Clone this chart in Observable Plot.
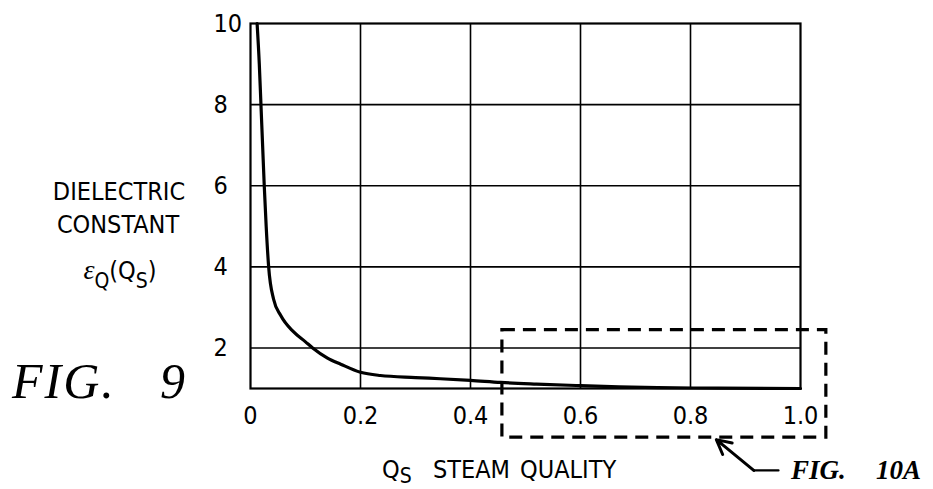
<!DOCTYPE html>
<html>
<head>
<meta charset="utf-8">
<script src="https://cdn.jsdelivr.net/npm/d3@7"></script>
<script src="https://cdn.jsdelivr.net/npm/@observablehq/plot@0.6"></script>
<style>
  html, body { margin: 0; padding: 0; background: #fff; }
  #chart svg { display: block; }
</style>
</head>
<body>
<div id="chart"></div>
<script>
// Steam quality Qs (x) and dielectric constant eps_Q(Qs) (y)
const steamQuality = [0.012, 0.016, 0.019, 0.022, 0.025, 0.0285, 0.033, 0.042, 0.055, 0.078, 0.1, 0.113, 0.14, 0.164, 0.2, 0.236, 0.3, 0.345, 0.4, 0.455, 0.52, 0.6, 0.67, 0.74, 0.85, 1.0];
const dielectric   = [10, 9, 8, 7, 6, 5, 4, 3.2, 2.8, 2.4, 2.15, 2.0, 1.75, 1.6, 1.4, 1.32, 1.27, 1.24, 1.2, 1.15, 1.11, 1.07, 1.04, 1.02, 1.01, 1.0];

// Axis ticks
const xTicks = [0, 0.2, 0.4, 0.6, 0.8, 1.0];
const xTickLabels = ["0", "0.2", "0.4", "0.6", "0.8", "1.0"];
const yTicks = [2, 4, 6, 8, 10];
const yTickLabels = ["2", "4", "6", "8", "10"];

// Dashed region referenced as FIG. 10A (data coordinates)
const zoomBoxX = [0.458, 1.047];
const zoomBoxY = [-0.21, 2.44];
// Leader to FIG. 10A (data coordinates): horizontal tail, then arrow to the box
const leaderX = [0.96, 0.915];
const leaderY = [-1.02, -1.02];
const arrowFrom = {x: 0.915, y: -1.02};
const arrowTo = {x: 0.847, y: -0.26};

const curve = steamQuality.map((q, i) => ({q, e: dielectric[i]}));
const leader = leaderX.map((x, i) => ({x, y: leaderY[i]}));
const box = [{x1: zoomBoxX[0], x2: zoomBoxX[1], y1: zoomBoxY[0], y2: zoomBoxY[1]}];

const FONT = "'Liberation Sans Narrow', 'DejaVu Sans Condensed', 'Arial Narrow', sans-serif";
const SERIF = "'Liberation Serif', 'DejaVu Serif', serif";

const plot = Plot.plot({
  width: 933,
  height: 489,
  marginLeft: 250,
  marginRight: 133,
  marginTop: 23,
  marginBottom: 101,
  style: {fontFamily: FONT, fontSize: "25px", background: "#fff", color: "#000", overflow: "visible"},
  x: {domain: [0, 1], label: null},
  y: {domain: [1, 10], label: null},
  marks: [
    Plot.gridX(xTicks.slice(1, -1), {stroke: "#000", strokeOpacity: 1, strokeWidth: 1.6}),
    Plot.gridY(yTicks.slice(0, -1), {stroke: "#000", strokeOpacity: 1, strokeWidth: 1.6}),
    Plot.frame({stroke: "#000", strokeWidth: 2.2}),
    Plot.axisX(xTicks, {tickSize: 0, tickPadding: 18, fontSize: 25, tickFormat: d => xTickLabels[xTicks.indexOf(d)]}),
    Plot.axisY(yTicks, {tickSize: 0, tickPadding: 0, textAnchor: "start", dx: -37, fontSize: 25, tickFormat: d => yTickLabels[yTicks.indexOf(d)]}),
    Plot.line(curve, {x: "q", y: "e", stroke: "#000", strokeWidth: 3.2, curve: "monotone-x"}),
    Plot.rect(box, {x1: "x1", x2: "x2", y1: "y1", y2: "y2", fill: "none", stroke: "#000", strokeWidth: 3.2, strokeDasharray: "13,8", clip: false}),
    Plot.line(leader, {x: "x", y: "y", stroke: "#000", strokeWidth: 2.2, clip: false}),
    Plot.arrow([arrowFrom], {x1: "x", y1: "y", x2: () => arrowTo.x, y2: () => arrowTo.y, stroke: "#000", strokeWidth: 3, headLength: 14, headAngle: 55, clip: false})
  ]
});

document.getElementById("chart").appendChild(plot);

const svg = d3.select(plot);
// Y-axis title
const yl = svg.append("g").attr("font-family", FONT).attr("font-size", 25).attr("text-anchor", "middle").attr("fill", "#000");
yl.append("text").attr("x", 119).attr("y", 200).text("DIELECTRIC");
yl.append("text").attr("x", 118).attr("y", 233).text("CONSTANT");
const eq = yl.append("text").attr("x", 120).attr("y", 279);
eq.append("tspan").attr("font-family", SERIF).attr("font-style", "italic").attr("font-size", 28).text("ε");
eq.append("tspan").attr("font-size", 21).attr("dy", 9).text("Q");
eq.append("tspan").attr("dy", -9).text("(Q");
eq.append("tspan").attr("font-size", 21).attr("dy", 9).text("S");
eq.append("tspan").attr("dy", -9).text(")");

// X-axis title
const xl = svg.append("text").attr("font-family", FONT).attr("font-size", 25).attr("fill", "#000").attr("text-anchor", "start").attr("x", 382).attr("y", 478);
xl.append("tspan").text("Q");
xl.append("tspan").attr("font-size", 21).attr("dy", 5).text("S");
xl.append("tspan").attr("dy", -5).attr("x", 433).text("STEAM");
xl.append("tspan").attr("x", 520).text("QUALITY");

// Figure labels
const fig9 = svg.append("text").attr("font-family", SERIF).attr("font-style", "italic").attr("font-size", 50).attr("fill", "#000").attr("text-anchor", "start").attr("y", 398);
fig9.append("tspan").attr("x", 12).attr("letter-spacing", 2).text("FIG.");
fig9.append("tspan").attr("x", 160).text("9");

const fig10 = svg.append("text").attr("font-family", SERIF).attr("font-style", "italic").attr("font-weight", "bold").attr("font-size", 27).attr("fill", "#000").attr("text-anchor", "start").attr("y", 479);
fig10.append("tspan").attr("x", 791).text("FIG.");
fig10.append("tspan").attr("x", 876).text("10A");
</script>
</body>
</html>
